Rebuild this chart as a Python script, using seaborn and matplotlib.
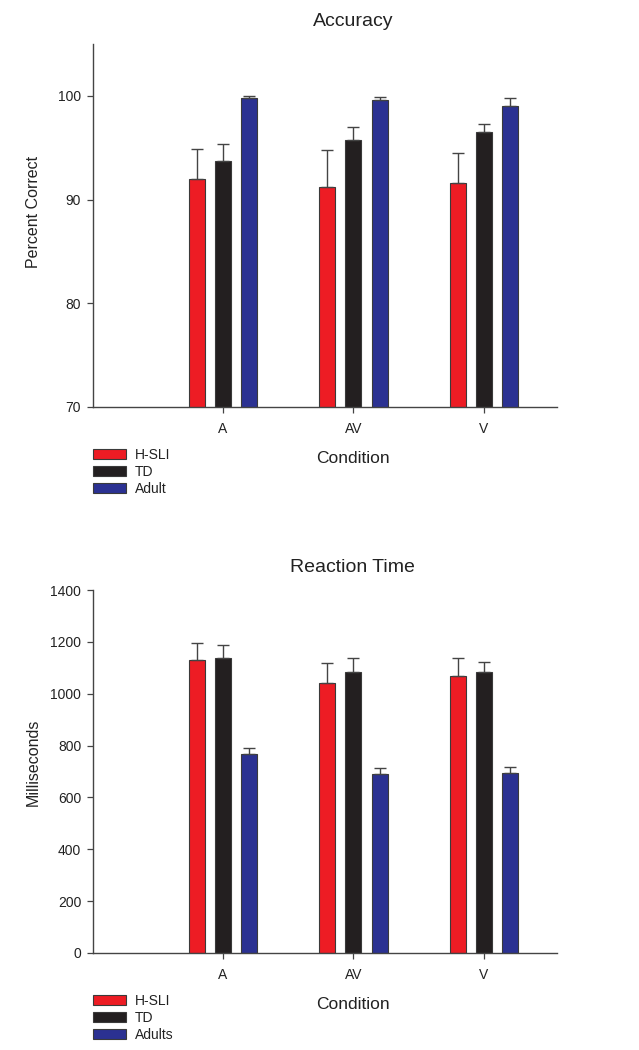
import numpy as np
import pandas as pd
import matplotlib
matplotlib.use("Agg")
import matplotlib.pyplot as plt
from matplotlib.patches import Patch
import seaborn as sns

conditions = ["A", "AV", "V"]
groups_acc = ["H-SLI", "TD", "Adult"]
groups_rt = ["H-SLI", "TD", "Adults"]

acc_hsli = [92.0, 91.2, 91.6]
acc_td = [93.75, 95.7, 96.5]
acc_adult = [99.8, 99.6, 99.05]
acc_err_hsli = [2.9, 3.55, 2.9]
acc_err_td = [1.65, 1.3, 0.8]
acc_err_adult = [0.2, 0.3, 0.75]

rt_hsli = [1129, 1040, 1067]
rt_td = [1139, 1084, 1083]
rt_adult = [769, 691, 695]
rt_err_hsli = [68, 77, 70]
rt_err_td = [50, 54, 39]
rt_err_adult = [23, 21, 21]

colors = ["#ED1C24", "#231F20", "#2B3192"]
edge = "#3a3a3a"
textc = "#222222"

sns.set_theme(style="white")
plt.rcParams["font.family"] = ["Liberation Sans", "DejaVu Sans"]
plt.rcParams["text.color"] = textc
plt.rcParams["axes.labelcolor"] = textc
plt.rcParams["xtick.color"] = "#444444"
plt.rcParams["ytick.color"] = "#444444"

fig = plt.figure(figsize=(6.39, 10.5), dpi=100)
ax1 = fig.add_axes([93/639, 1-407/1050, 464/639, 363/1050])
ax2 = fig.add_axes([93/639, 1-953/1050, 464/639, 363/1050])


def make_df(groups, vals):
    rows = []
    for g, v in zip(groups, vals):
        for c, val in zip(conditions, v):
            rows.append({"condition": c, "group": g, "value": val})
    return pd.DataFrame(rows)


def draw(ax, groups, vals, errs, ylim, yticks, title, ylabel, ylab_y):
    df = make_df(groups, vals)
    sns.barplot(data=df, x="condition", y="value", hue="group", order=conditions,
                hue_order=groups, palette=colors, width=0.6, gap=0.385,
                edgecolor=edge, linewidth=0.8, errorbar=None, ax=ax, legend=False,
                saturation=1)
    for cont, err in zip(ax.containers, errs):
        xs = [p.get_x() + p.get_width() / 2 for p in cont.patches]
        ys = [p.get_height() + p.get_y() for p in cont.patches]
        ax.errorbar(xs, ys, yerr=[np.zeros(len(err)), err], fmt="none",
                    ecolor="#444444", elinewidth=1.0, capsize=4.5, capthick=1.0, zorder=1)
    ax.set_ylim(*ylim)
    ax.set_yticks(yticks)
    ax.set_xlim(-0.996, 2.56)
    for s in ["top", "right"]:
        ax.spines[s].set_visible(False)
    for s in ["left", "bottom"]:
        ax.spines[s].set_color("#444444")
        ax.spines[s].set_linewidth(1.0)
    ax.tick_params(axis="both", which="both", direction="out", length=4.5, width=0.9,
                   labelsize=10, labelcolor=textc)
    ax.tick_params(axis="x", pad=6)
    ax.tick_params(axis="y", pad=4)
    ax.tick_params(left=True, bottom=True)
    ax.set_title(title, fontsize=14, x=0.56, pad=13, color=textc)
    ax.set_xlabel("Condition", fontsize=12.5)
    ax.xaxis.set_label_coords(0.56, -0.12)
    ax.set_ylabel(ylabel, fontsize=11.5)
    ax.yaxis.set_label_coords(-0.112, ylab_y)
    handles = [Patch(facecolor=c, edgecolor=edge, linewidth=0.8) for c in colors]
    ax.legend(handles, groups, loc="upper left", bbox_to_anchor=(0.0, -0.113),
              frameon=False, fontsize=10, handlelength=2.4, handleheight=0.75,
              handletextpad=0.6, labelspacing=0.2, borderpad=0, borderaxespad=0)


draw(ax1, groups_acc, [acc_hsli, acc_td, acc_adult],
     [acc_err_hsli, acc_err_td, acc_err_adult],
     (70, 105), [70, 80, 90, 100], "Accuracy", "Percent Correct", 0.537)
draw(ax2, groups_rt, [rt_hsli, rt_td, rt_adult],
     [rt_err_hsli, rt_err_td, rt_err_adult],
     (0, 1400), list(range(0, 1401, 200)), "Reaction Time", "Milliseconds", 0.526)

fig.savefig("out.png", dpi=100, facecolor="white")
